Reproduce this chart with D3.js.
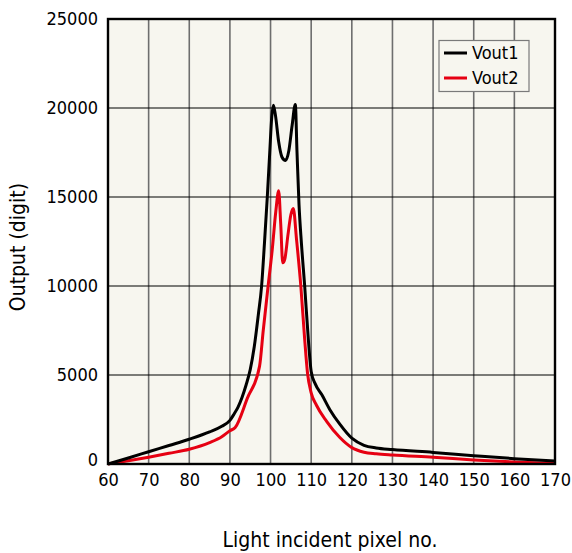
<!DOCTYPE html>
<html><head><meta charset="utf-8">
<script src="https://cdn.jsdelivr.net/npm/d3@7"></script>
<style>
body{margin:0;background:#fff;}
text{font-family:"DejaVu Sans Condensed","DejaVu Sans",sans-serif;font-stretch:condensed;fill:#000;}
</style></head><body>
<svg id="chart" width="572" height="553"></svg>
<script>
const xTicks = [60,70,80,90,100,110,120,130,140,150,160,170];
const yTicks = [0,5000,10000,15000,20000,25000];
const seriesNames = ["Vout1","Vout2"];
const seriesColors = ["#000000","#e60012"];
const vout1X = [60,65,70,75,80,85,88,90,91,92,93,94,95,96,97,97.8,98.5,99.2,99.8,100.3,100.7,101.2,102,102.8,103.7,104.5,105.3,106.1,106.5,107,107.6,108.4,109.3,110,111,112.6,114.6,117,120,123,126,130,140,150,160,170];
const vout1Y = [0,340,690,1040,1390,1800,2120,2450,2800,3200,3750,4450,5300,6600,8400,10000,12400,15000,17500,19500,20150,19600,18100,17250,17050,17600,19000,20200,17600,14600,12400,10000,7000,5200,4500,3900,3050,2250,1450,1050,900,810,650,470,300,170];
const vout2X = [60,65,70,75,80,85,88,90,91.3,94.3,97.3,98.2,99.4,100.4,101.3,102,102.5,103,103.5,104.3,105,105.6,106.4,107.45,108.4,109.1,110,111.3,113.8,117,120,123,126,130,140,150,160,170];
const vout2Y = [0,180,380,600,826,1200,1530,1870,2050,3700,5500,7500,10000,12000,14200,15350,13500,11300,11500,12900,14000,14350,12600,10000,7000,5100,4000,3300,2400,1500,920,660,570,500,380,230,115,30];

const svg = d3.select("#chart");
const L=108, R=555, T=19, B=464;
const x = d3.scaleLinear().domain([60,170]).range([L,R]);
const y = d3.scaleLinear().domain([0,25000]).range([B,T]);

svg.append("rect").attr("x",L).attr("y",T).attr("width",R-L).attr("height",B-T).attr("fill","#f7f6ef");

// vertical grid
svg.append("g").selectAll("line").data(xTicks.slice(1,-1)).join("line")
  .attr("x1",d=>x(d)).attr("x2",d=>x(d)).attr("y1",T).attr("y2",B)
  .attr("stroke","#6e6e6e").attr("stroke-width",1.6);
// horizontal grid
svg.append("g").selectAll("line").data(yTicks.slice(1,-1)).join("line")
  .attr("x1",L).attr("x2",R).attr("y1",d=>y(d)).attr("y2",d=>y(d))
  .attr("stroke","#000").attr("stroke-width",1.1);

// axes labels via d3 axes
const xAxis = svg.append("g").attr("transform",`translate(0,${B})`)
  .call(d3.axisBottom(x).tickValues(xTicks).tickSize(0).tickPadding(9).tickFormat(d3.format("d")));
xAxis.select(".domain").remove();
const yAxis = svg.append("g").attr("transform",`translate(${L},0)`)
  .call(d3.axisLeft(y).tickValues(yTicks).tickSize(0).tickPadding(10).tickFormat(d3.format("d")));
yAxis.select(".domain").remove();
yAxis.selectAll("text").attr("dy",d=>d===0?"0.1em":"0.32em");
[xAxis,yAxis].forEach(a=>a.attr("font-family",null).attr("font-size",18));
svg.selectAll(".tick text").attr("fill","#000");

// lines
const line = d3.line().x(d=>x(d[0])).y(d=>y(d[1])).curve(d3.curveMonotoneX);
const data = [d3.zip(vout1X,vout1Y), d3.zip(vout2X,vout2Y)];
svg.append("g").selectAll("path").data([1,0]).join("path")
  .attr("d",i=>line(data[i])).attr("fill","none")
  .attr("stroke",i=>seriesColors[i]).attr("stroke-width",3).attr("stroke-linejoin","round");

// frame
svg.append("rect").attr("x",L).attr("y",T).attr("width",R-L).attr("height",B-T)
  .attr("fill","none").attr("stroke","#000").attr("stroke-width",2.4);

// legend
const lg = svg.append("g");
lg.append("rect").attr("x",439).attr("y",40.5).attr("width",90).attr("height",51)
  .attr("fill","#f7f6ef").attr("stroke","#7a7a7a").attr("stroke-width",1.2);
seriesNames.forEach((n,i)=>{
  const yy = 53 + i*25;
  lg.append("line").attr("x1",444).attr("x2",467).attr("y1",yy).attr("y2",yy)
    .attr("stroke",seriesColors[i]).attr("stroke-width",3);
  lg.append("text").attr("x",472).attr("y",yy).attr("dy","0.35em").attr("font-size",18).text(n);
});

// titles
svg.append("text").attr("x",330).attr("y",547).attr("text-anchor","middle").attr("font-size",21).text("Light incident pixel no.");
svg.append("text").attr("transform","translate(25,247) rotate(-90)").attr("text-anchor","middle").attr("font-size",21).text("Output (digit)");
</script></body></html>
